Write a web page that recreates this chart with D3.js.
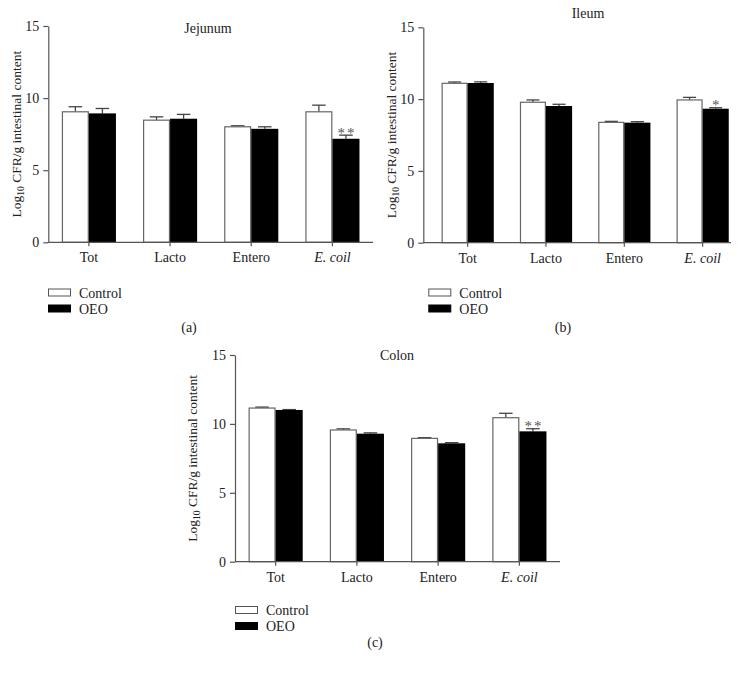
<!DOCTYPE html>
<html>
<head>
<meta charset="utf-8">
<script src="https://cdn.jsdelivr.net/npm/d3@7"></script>
<style>
  body { margin: 0; background: #fff; }
  svg { display: block; }
  svg text { font-family: 'Liberation Serif', 'Times New Roman', Times, serif; fill: #222; }
</style>
</head>
<body>
<svg id="chart" width="750" height="675"></svg>
<script>
// ---------- data ----------
const categories = ["Tot", "Lacto", "Entero", "E. coil"];
const seriesNames = ["Control", "OEO"];
const yTicks = [0, 5, 10, 15];

const jejunumControl    = [9.05, 8.47, 8.01, 9.05];
const jejunumControlErr = [0.35, 0.23, 0.07, 0.46];
const jejunumOEO        = [8.94, 8.57, 7.87, 7.18];
const jejunumOEOErr     = [0.34, 0.30, 0.14, 0.25];
const jejunumSig        = ["", "", "", "**"];

const ileumControl      = [11.10, 9.78, 8.38, 9.94];
const ileumControlErr   = [0.09, 0.16, 0.07, 0.18];
const ileumOEO          = [11.12, 9.52, 8.36, 9.33];
const ileumOEOErr       = [0.08, 0.12, 0.07, 0.07];
const ileumSig          = ["", "", "", "*"];

const colonControl      = [11.15, 9.56, 8.95, 10.45];
const colonControlErr   = [0.07, 0.08, 0.05, 0.32];
const colonOEO          = [11.01, 9.29, 8.59, 9.46];
const colonOEOErr       = [0.03, 0.06, 0.05, 0.19];
const colonSig          = ["", "", "", "**"];

// ---------- layout ----------
const FONT = "'Liberation Serif', 'Times New Roman', Times, serif";
const panels = [
  { title: "Jejunum", tag: "(a)", control: jejunumControl, controlErr: jejunumControlErr,
    oeo: jejunumOEO, oeoErr: jejunumOEOErr, sig: jejunumSig,
    axisX0: 48.3, axisX1: 373, bandX0: 48.3, bandX1: 373, yTop: 26, yBottom: 242.3,
    titleX: 208, titleY: 33, ylabX: 21,
    legX: 48, legY: 289, tagX: 189, tagY: 332 },
  { title: "Ileum", tag: "(b)", control: ileumControl, controlErr: ileumControlErr,
    oeo: ileumOEO, oeoErr: ileumOEOErr, sig: ileumSig,
    axisX0: 423.3, axisX1: 731, bandX0: 428.5, bandX1: 741.8, yTop: 27.3, yBottom: 242.7,
    titleX: 588, titleY: 18, ylabX: 396,
    legX: 428.3, legY: 289, tagX: 563, tagY: 332 },
  { title: "Colon", tag: "(c)", control: colonControl, controlErr: colonControlErr,
    oeo: colonOEO, oeoErr: colonOEOErr, sig: colonSig,
    axisX0: 235, axisX1: 560, bandX0: 235, bandX1: 560, yTop: 355, yBottom: 561.7,
    titleX: 397, titleY: 360, ylabX: 197,
    legX: 235, legY: 606.5, tagX: 375, tagY: 647 }
];

const svg = d3.select("#chart");
const axisColor = "#555";

panels.forEach(p => {
  const g = svg.append("g");
  const x = d3.scaleBand().domain(categories).range([p.bandX0, p.bandX1]).padding(0);
  const y = d3.scaleLinear().domain([0, 15]).range([p.yBottom, p.yTop]);
  const bw = x.bandwidth() / 3;
  const groupOff = [-bw, 0];

  const seriesData = [
    { vals: p.control, errs: p.controlErr, fill: "#fff", stroke: "#666" },
    { vals: p.oeo, errs: p.oeoErr, fill: "#000", stroke: "#000" }
  ];
  seriesData.forEach((s, si) => {
    const cx = c => x(c) + x.bandwidth() / 2 + groupOff[si];
    g.selectAll(null).data(categories).enter().append("line")
      .attr("x1", c => cx(c) + bw / 2).attr("x2", c => cx(c) + bw / 2)
      .attr("y1", (c, i) => y(s.vals[i])).attr("y2", (c, i) => y(s.vals[i] + s.errs[i]))
      .attr("stroke", "#444").attr("stroke-width", 1.3);
    g.selectAll(null).data(categories).enter().append("line")
      .attr("x1", c => cx(c) + bw / 4).attr("x2", c => cx(c) + bw * 3 / 4)
      .attr("y1", (c, i) => y(s.vals[i] + s.errs[i])).attr("y2", (c, i) => y(s.vals[i] + s.errs[i]))
      .attr("stroke", "#444").attr("stroke-width", 1.3);
    g.selectAll(null).data(categories).enter().append("rect")
      .attr("x", c => cx(c) + (si === 0 ? 0.6 : 0))
      .attr("width", bw - (si === 0 ? 1.2 : 0))
      .attr("y", (c, i) => y(s.vals[i]))
      .attr("height", (c, i) => y(0) - y(s.vals[i]))
      .attr("fill", s.fill).attr("stroke", s.stroke).attr("stroke-width", si === 0 ? 1.2 : 0);
  });

  // significance marks
  g.selectAll(null).data(categories).enter().append("text")
    .attr("x", c => x(c) + x.bandwidth() / 2 + bw / 2 + 1)
    .attr("y", (c, i) => y(p.oeo[i] + p.oeoErr[i]) + 2.5)
    .attr("text-anchor", "middle")
    .style("font-size", "15px").attr("letter-spacing", 2)
    .style("fill", "#555")
    .text((c, i) => p.sig[i]);

  // y axis
  const yAxis = d3.axisLeft(y).tickValues(yTicks).tickSize(5).tickSizeOuter(0).tickPadding(4);
  const ya = g.append("g").attr("transform", `translate(${p.axisX0},0)`).call(yAxis)
    .attr("font-family", FONT).attr("font-size", 14);
  ya.select(".domain").attr("stroke", axisColor).attr("stroke-width", 1.2);
  ya.selectAll(".tick line").attr("stroke", axisColor).attr("stroke-width", 1.2);
  ya.selectAll(".tick text").style("font-size", "14px").style("fill", "#222");

  // x axis
  const xAxis = d3.axisBottom(x).tickSize(4).tickSizeOuter(0).tickPadding(6);
  const xa = g.append("g").attr("transform", `translate(0,${p.yBottom})`).call(xAxis)
    .attr("font-family", FONT).attr("font-size", 14);
  xa.select(".domain").remove();
  xa.selectAll(".tick line").attr("stroke", axisColor).attr("stroke-width", 1.2);
  xa.selectAll(".tick text").style("font-size", "14px")
    .style("fill", "#222").style("font-style", d => d === "E. coil" ? "italic" : "normal");
  g.append("line").attr("x1", p.axisX0).attr("x2", p.axisX1)
    .attr("y1", p.yBottom).attr("y2", p.yBottom)
    .attr("stroke", axisColor).attr("stroke-width", 1.2);

  // title
  g.append("text").attr("x", p.titleX).attr("y", p.titleY).attr("text-anchor", "middle")
    .style("font-size", "14px").text(p.title);

  // y label
  const yl = g.append("text")
    .attr("transform", `translate(${p.ylabX},${(p.yTop + p.yBottom) / 2}) rotate(-90)`)
    .attr("text-anchor", "middle").style("font-size", "13.5px");
  yl.append("tspan").text("Log");
  yl.append("tspan").style("font-size", "9.5px").attr("dy", 3).text("10");
  yl.append("tspan").attr("dy", -3).text(" CFR/g intestinal content");

  // legend
  seriesNames.forEach((n, i) => {
    const ly = p.legY + i * 16;
    g.append("rect").attr("x", p.legX + 0.5).attr("y", ly).attr("width", 22).attr("height", 7)
      .attr("fill", i === 0 ? "#fff" : "#000").attr("stroke", i === 0 ? "#555" : "#000")
      .attr("stroke-width", 1);
    g.append("text").attr("x", p.legX + 31).attr("y", ly + 8.5).style("font-size", "14px").text(n);
  });

  // panel tag
  g.append("text").attr("x", p.tagX).attr("y", p.tagY).attr("text-anchor", "middle")
    .style("font-size", "14px").text(p.tag);
});
</script>
</body>
</html>
